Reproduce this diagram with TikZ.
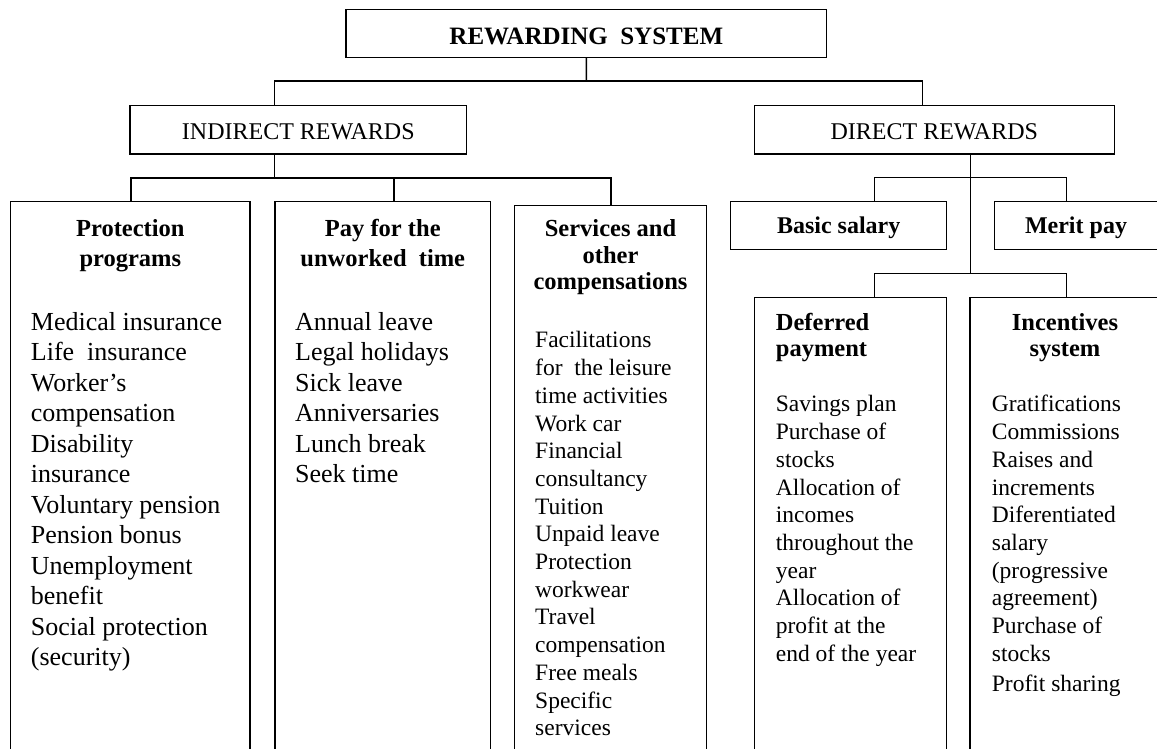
\documentclass[tikz,border=0pt]{standalone}
\usepackage{fontspec}
\setmainfont{Liberation Serif}
\newcommand\firstrule{\rule{0pt}{20pt}}
\begin{document}
\begin{tikzpicture}[x=1pt,y=-1pt,
  box/.style={draw, line width=1.5pt, inner sep=0pt, outer sep=0pt},
  conn/.style={line width=1.5pt},
  lbl/.style={inner sep=0pt, anchor=base},
  boldlbl/.style={inner sep=0pt, anchor=base, font=\bfseries\fontsize{24.5}{29}\selectfont},
  plainlbl/.style={inner sep=0pt, anchor=base, font=\fontsize{24}{29}\selectfont},
  headc/.style={inner sep=0pt, anchor=north, align=center, font=\bfseries\fontsize{24.5}{#1}\selectfont},
  headl/.style={inner sep=0pt, anchor=north west, align=left, font=\bfseries\fontsize{24.5}{#1}\selectfont},
  biglist/.style={inner sep=0pt, anchor=north west, align=left, font=\fontsize{26}{30.5}\selectfont},
  smalllist/.style={inner sep=0pt, anchor=north west, align=left, font=\fontsize{23.5}{27.7}\selectfont}
]
\useasboundingbox (0,0) rectangle (1157,749);
\clip (0,0) rectangle (1157,749);

% boxes
\node[box, minimum width=480.7pt, minimum height=48.4pt] (top) at (586.3,33.5) {};
\node[box, minimum width=336.7pt, minimum height=48.3pt] (ind) at (298.3,129.85) {};
\node[box, minimum width=360pt, minimum height=48.3pt] (dir) at (934.3,129.85) {};
\node[box, minimum width=239.3pt, minimum height=558.3pt] (prot) at (130.35,480.85) {};
\node[box, minimum width=215.7pt, minimum height=558.3pt] (pay) at (382.85,480.85) {};
\node[box, minimum width=192.4pt, minimum height=554.3pt] (serv) at (610.5,482.85) {};
\node[box, minimum width=216pt, minimum height=47.6pt] (basic) at (838.7,225.5) {};
\node[box, minimum width=167.7pt, minimum height=47.6pt] (merit) at (1078.15,225.5) {};
\node[box, minimum width=192.4pt, minimum height=462.7pt] (def) at (850.5,528.65) {};
\node[box, minimum width=192pt, minimum height=462.7pt] (inc) at (1066,528.65) {};

% connector junctions
\coordinate (b1) at (586.5,81);
\coordinate (b1l) at (274.4,81);
\coordinate (b1r) at (922.7,81);
\coordinate (b2) at (274.4,178);
\coordinate (b2l) at (131,178);
\coordinate (b2m) at (394,178);
\coordinate (b2r) at (611,178);
\coordinate (b3) at (970.7,177.7);
\coordinate (b3l) at (874.3,177.7);
\coordinate (b3r) at (1066.7,177.7);
\coordinate (b4) at (970.7,273.3);
\coordinate (b4l) at (874.3,273.3);
\coordinate (b4r) at (1066.7,273.3);

% connectors
\draw[conn] (top.south) -- (b1);
\draw[conn] (ind.north -| b1l) |- (b1r) -- (dir.north -| b1r);
\draw[conn] (ind.south -| b2) -- (b2);
\draw[conn] (prot.north -| b2l) |- (b2r) -- (serv.north -| b2r);
\draw[conn] (b2m) -- (pay.north -| b2m);
\draw[conn] (dir.south -| b3) -- (b4);
\draw[conn] (basic.north -| b3l) |- (b3r) -- (merit.north -| b3r);
\draw[conn] (def.north -| b4l) |- (b4r) -- (inc.north -| b4r);

% single-line labels
\node[boldlbl, font=\bfseries\fontsize{25}{29}\selectfont] (ttop) at (586.3,45) {REWARDING\ \ SYSTEM};
\node[plainlbl] (tind) at (298.3,139.3) {INDIRECT REWARDS};
\node[plainlbl] (tdir) at (934.3,139.3) {DIRECT REWARDS};
\node[boldlbl, font=\bfseries\fontsize{24}{29}\selectfont] (tbasic) at (838.7,233.3) {Basic salary};
\node[boldlbl, font=\bfseries\fontsize{24}{29}\selectfont] (tmerit) at (1076,233.3) {Merit pay};

% headers (baseline of first line = y + 20)
\node[headc=30.7] (hprot) at (130.35,216) {\firstrule Protection\\programs};
\node[headc=30.7] (hpay) at (382.8,216) {\firstrule Pay for the\\unworked\ \ time};
\node[headc=26.2] (hserv) at (610.5,216.7) {\firstrule Services and\\other\\compensations};
\node[headl=26.7] (hdef) at (775.7,310) {\firstrule Deferred\\payment};
\node[headc=26.7] (hinc) at (1065,310) {\firstrule Incentives\\system};

% lists
\node[biglist] (lprot) at (30.7,310) {\firstrule Medical insurance\\Life\ \ insurance\\Worker’s\\compensation\\Disability\\insurance\\Voluntary pension\\Pension bonus\\Unemployment\\benefit\\Social protection\\(security)};
\node[biglist] (lpay) at (295,310) {\firstrule Annual leave\\Legal holidays\\Sick leave\\Anniversaries\\Lunch break\\Seek time};
\node[smalllist] (lserv) at (535,327.7) {\firstrule Facilitations\\for\ \ the leisure\\time activities\\Work car\\Financial\\consultancy\\Tuition\\Unpaid leave\\Protection\\workwear\\Travel\\compensation\\Free meals\\Specific\\services};
\node[smalllist] (ldef) at (775.7,391.7) {\firstrule Savings plan\\Purchase of\\stocks\\Allocation of\\incomes\\throughout the\\year\\Allocation of\\profit at the\\end of the year};
\node[smalllist] (linc) at (991.7,391.7) {\firstrule Gratifications\\Commissions\\Raises and\\increments\\Diferentiated\\salary\\(progressive\\agreement)\\Purchase of\\stocks\\[3pt]Profit sharing};
\end{tikzpicture}
\end{document}
